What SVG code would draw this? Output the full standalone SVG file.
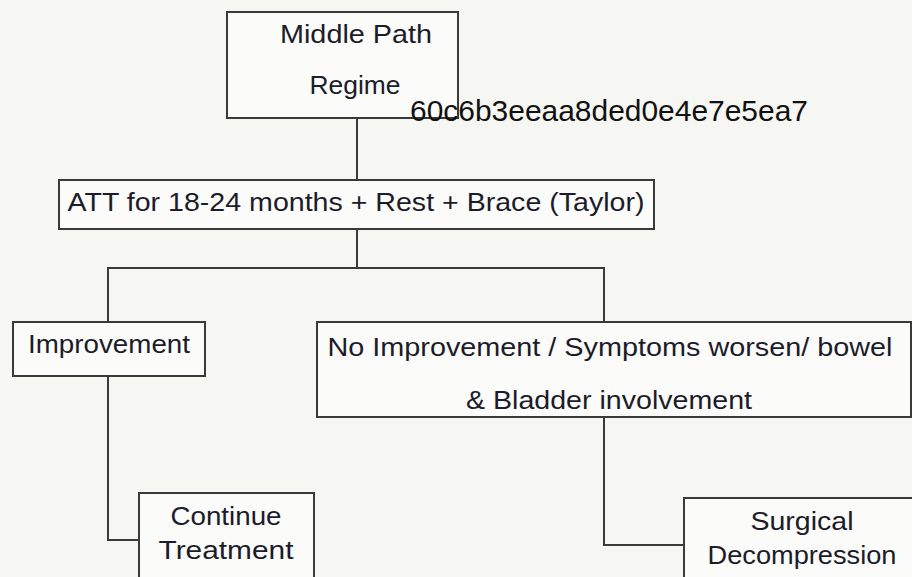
<svg xmlns="http://www.w3.org/2000/svg" width="912" height="577" viewBox="0 0 912 577">
<style>
.box{fill:#fbfbf9;stroke:#3a3a3a;stroke-width:2}
.t{font-family:"Liberation Sans","Open Sans",sans-serif;font-size:25px;fill:#1c1c2a;text-anchor:middle}
.c{fill:none;stroke:#3a3a3a;stroke-width:2}
.h{font-family:"Liberation Sans",Arial,sans-serif;font-size:29px;fill:#111}
</style>
<rect width="912" height="577" fill="#f6f6f3"/>
<g id="connectors">
<path class="c" d="M357 118V180"/>
<path class="c" d="M357 229V268M108 322V268H604V322"/>
<path class="c" d="M108 376V540H139"/>
<path class="c" d="M604 417V545H684"/>
</g>
<g id="n1">
<rect class="box" x="227" y="12" width="231" height="106"/>
<text class="t" x="356" y="43" textLength="152" lengthAdjust="spacingAndGlyphs">Middle Path</text>
<text class="t" x="355" y="94" textLength="91" lengthAdjust="spacingAndGlyphs">Regime</text>
</g>
<g id="n2">
<rect class="box" x="59" y="180" width="595" height="49"/>
<text class="t" x="356" y="211" textLength="577" lengthAdjust="spacingAndGlyphs">ATT for 18-24 months + Rest + Brace (Taylor)</text>
</g>
<g id="n3">
<rect class="box" x="13" y="322" width="192" height="54"/>
<text class="t" x="109" y="353" textLength="162" lengthAdjust="spacingAndGlyphs">Improvement</text>
</g>
<g id="n4">
<rect class="box" x="317" y="322" width="594" height="95"/>
<text class="t" x="610" y="356" textLength="565" lengthAdjust="spacingAndGlyphs">No Improvement / Symptoms worsen/ bowel</text>
<text class="t" x="609" y="409" textLength="286" lengthAdjust="spacingAndGlyphs">&amp; Bladder involvement</text>
</g>
<g id="n5">
<rect class="box" x="139" y="493" width="175" height="100"/>
<text class="t" x="226" y="525" textLength="111" lengthAdjust="spacingAndGlyphs">Continue</text>
<text class="t" x="226" y="559" textLength="135" lengthAdjust="spacingAndGlyphs">Treatment</text>
</g>
<g id="n6">
<rect class="box" x="684" y="498" width="240" height="100"/>
<text class="t" x="802" y="530" textLength="103" lengthAdjust="spacingAndGlyphs">Surgical</text>
<text class="t" x="802" y="564" textLength="189" lengthAdjust="spacingAndGlyphs">Decompression</text>
</g>
<text class="h" x="410" y="121" textLength="398" lengthAdjust="spacingAndGlyphs">60c6b3eeaa8ded0e4e7e5ea7</text>
</svg>
